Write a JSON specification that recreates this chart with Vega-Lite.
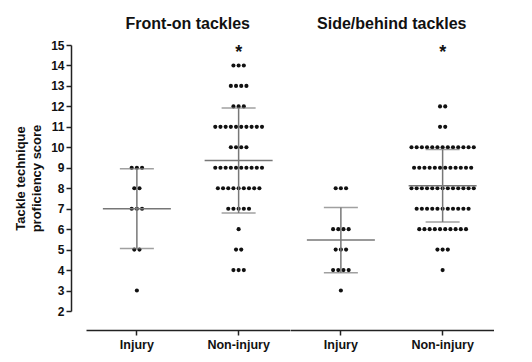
{
  "$schema": "https://vega.github.io/schema/vega-lite/v6.json",
  "padding": {"left": 14, "top": 16, "right": 5, "bottom": 5},
  "config": {
    "font": "Liberation Sans",
    "view": {"stroke": null},
    "axis": {"grid": false, "domainColor": "#222", "tickColor": "#222", "labelColor": "#111", "titleColor": "#111", "labelFontWeight": "bold", "titleFontWeight": "bold", "labelFont": "Liberation Sans", "titleFont": "Liberation Sans", "domainWidth": 1.5, "tickWidth": 1.5}
  },
  "data": {"values": [
    {"type":"Front-on tackles","group":"Injury","score":9},
    {"type":"Front-on tackles","group":"Injury","score":9},
    {"type":"Front-on tackles","group":"Injury","score":9},
    {"type":"Front-on tackles","group":"Injury","score":8},
    {"type":"Front-on tackles","group":"Injury","score":8},
    {"type":"Front-on tackles","group":"Injury","score":7},
    {"type":"Front-on tackles","group":"Injury","score":7},
    {"type":"Front-on tackles","group":"Injury","score":7},
    {"type":"Front-on tackles","group":"Injury","score":5},
    {"type":"Front-on tackles","group":"Injury","score":5},
    {"type":"Front-on tackles","group":"Injury","score":3},
    {"type":"Front-on tackles","group":"Non-injury","score":14},
    {"type":"Front-on tackles","group":"Non-injury","score":14},
    {"type":"Front-on tackles","group":"Non-injury","score":14},
    {"type":"Front-on tackles","group":"Non-injury","score":13},
    {"type":"Front-on tackles","group":"Non-injury","score":13},
    {"type":"Front-on tackles","group":"Non-injury","score":13},
    {"type":"Front-on tackles","group":"Non-injury","score":13},
    {"type":"Front-on tackles","group":"Non-injury","score":12},
    {"type":"Front-on tackles","group":"Non-injury","score":12},
    {"type":"Front-on tackles","group":"Non-injury","score":12},
    {"type":"Front-on tackles","group":"Non-injury","score":11},
    {"type":"Front-on tackles","group":"Non-injury","score":11},
    {"type":"Front-on tackles","group":"Non-injury","score":11},
    {"type":"Front-on tackles","group":"Non-injury","score":11},
    {"type":"Front-on tackles","group":"Non-injury","score":11},
    {"type":"Front-on tackles","group":"Non-injury","score":11},
    {"type":"Front-on tackles","group":"Non-injury","score":11},
    {"type":"Front-on tackles","group":"Non-injury","score":11},
    {"type":"Front-on tackles","group":"Non-injury","score":11},
    {"type":"Front-on tackles","group":"Non-injury","score":11},
    {"type":"Front-on tackles","group":"Non-injury","score":10},
    {"type":"Front-on tackles","group":"Non-injury","score":10},
    {"type":"Front-on tackles","group":"Non-injury","score":10},
    {"type":"Front-on tackles","group":"Non-injury","score":10},
    {"type":"Front-on tackles","group":"Non-injury","score":9},
    {"type":"Front-on tackles","group":"Non-injury","score":9},
    {"type":"Front-on tackles","group":"Non-injury","score":9},
    {"type":"Front-on tackles","group":"Non-injury","score":9},
    {"type":"Front-on tackles","group":"Non-injury","score":9},
    {"type":"Front-on tackles","group":"Non-injury","score":9},
    {"type":"Front-on tackles","group":"Non-injury","score":9},
    {"type":"Front-on tackles","group":"Non-injury","score":9},
    {"type":"Front-on tackles","group":"Non-injury","score":9},
    {"type":"Front-on tackles","group":"Non-injury","score":9},
    {"type":"Front-on tackles","group":"Non-injury","score":8},
    {"type":"Front-on tackles","group":"Non-injury","score":8},
    {"type":"Front-on tackles","group":"Non-injury","score":8},
    {"type":"Front-on tackles","group":"Non-injury","score":8},
    {"type":"Front-on tackles","group":"Non-injury","score":8},
    {"type":"Front-on tackles","group":"Non-injury","score":8},
    {"type":"Front-on tackles","group":"Non-injury","score":8},
    {"type":"Front-on tackles","group":"Non-injury","score":8},
    {"type":"Front-on tackles","group":"Non-injury","score":8},
    {"type":"Front-on tackles","group":"Non-injury","score":7},
    {"type":"Front-on tackles","group":"Non-injury","score":7},
    {"type":"Front-on tackles","group":"Non-injury","score":7},
    {"type":"Front-on tackles","group":"Non-injury","score":7},
    {"type":"Front-on tackles","group":"Non-injury","score":7},
    {"type":"Front-on tackles","group":"Non-injury","score":6},
    {"type":"Front-on tackles","group":"Non-injury","score":5},
    {"type":"Front-on tackles","group":"Non-injury","score":5},
    {"type":"Front-on tackles","group":"Non-injury","score":4},
    {"type":"Front-on tackles","group":"Non-injury","score":4},
    {"type":"Front-on tackles","group":"Non-injury","score":4},
    {"type":"Side/behind tackles","group":"Injury","score":8},
    {"type":"Side/behind tackles","group":"Injury","score":8},
    {"type":"Side/behind tackles","group":"Injury","score":8},
    {"type":"Side/behind tackles","group":"Injury","score":6},
    {"type":"Side/behind tackles","group":"Injury","score":6},
    {"type":"Side/behind tackles","group":"Injury","score":6},
    {"type":"Side/behind tackles","group":"Injury","score":6},
    {"type":"Side/behind tackles","group":"Injury","score":5},
    {"type":"Side/behind tackles","group":"Injury","score":5},
    {"type":"Side/behind tackles","group":"Injury","score":5},
    {"type":"Side/behind tackles","group":"Injury","score":4},
    {"type":"Side/behind tackles","group":"Injury","score":4},
    {"type":"Side/behind tackles","group":"Injury","score":4},
    {"type":"Side/behind tackles","group":"Injury","score":4},
    {"type":"Side/behind tackles","group":"Injury","score":3},
    {"type":"Side/behind tackles","group":"Non-injury","score":12},
    {"type":"Side/behind tackles","group":"Non-injury","score":12},
    {"type":"Side/behind tackles","group":"Non-injury","score":11},
    {"type":"Side/behind tackles","group":"Non-injury","score":11},
    {"type":"Side/behind tackles","group":"Non-injury","score":10},
    {"type":"Side/behind tackles","group":"Non-injury","score":10},
    {"type":"Side/behind tackles","group":"Non-injury","score":10},
    {"type":"Side/behind tackles","group":"Non-injury","score":10},
    {"type":"Side/behind tackles","group":"Non-injury","score":10},
    {"type":"Side/behind tackles","group":"Non-injury","score":10},
    {"type":"Side/behind tackles","group":"Non-injury","score":10},
    {"type":"Side/behind tackles","group":"Non-injury","score":10},
    {"type":"Side/behind tackles","group":"Non-injury","score":10},
    {"type":"Side/behind tackles","group":"Non-injury","score":10},
    {"type":"Side/behind tackles","group":"Non-injury","score":10},
    {"type":"Side/behind tackles","group":"Non-injury","score":10},
    {"type":"Side/behind tackles","group":"Non-injury","score":10},
    {"type":"Side/behind tackles","group":"Non-injury","score":9},
    {"type":"Side/behind tackles","group":"Non-injury","score":9},
    {"type":"Side/behind tackles","group":"Non-injury","score":9},
    {"type":"Side/behind tackles","group":"Non-injury","score":9},
    {"type":"Side/behind tackles","group":"Non-injury","score":9},
    {"type":"Side/behind tackles","group":"Non-injury","score":9},
    {"type":"Side/behind tackles","group":"Non-injury","score":9},
    {"type":"Side/behind tackles","group":"Non-injury","score":9},
    {"type":"Side/behind tackles","group":"Non-injury","score":9},
    {"type":"Side/behind tackles","group":"Non-injury","score":9},
    {"type":"Side/behind tackles","group":"Non-injury","score":9},
    {"type":"Side/behind tackles","group":"Non-injury","score":9},
    {"type":"Side/behind tackles","group":"Non-injury","score":8},
    {"type":"Side/behind tackles","group":"Non-injury","score":8},
    {"type":"Side/behind tackles","group":"Non-injury","score":8},
    {"type":"Side/behind tackles","group":"Non-injury","score":8},
    {"type":"Side/behind tackles","group":"Non-injury","score":8},
    {"type":"Side/behind tackles","group":"Non-injury","score":8},
    {"type":"Side/behind tackles","group":"Non-injury","score":8},
    {"type":"Side/behind tackles","group":"Non-injury","score":8},
    {"type":"Side/behind tackles","group":"Non-injury","score":8},
    {"type":"Side/behind tackles","group":"Non-injury","score":8},
    {"type":"Side/behind tackles","group":"Non-injury","score":8},
    {"type":"Side/behind tackles","group":"Non-injury","score":8},
    {"type":"Side/behind tackles","group":"Non-injury","score":8},
    {"type":"Side/behind tackles","group":"Non-injury","score":7},
    {"type":"Side/behind tackles","group":"Non-injury","score":7},
    {"type":"Side/behind tackles","group":"Non-injury","score":7},
    {"type":"Side/behind tackles","group":"Non-injury","score":7},
    {"type":"Side/behind tackles","group":"Non-injury","score":7},
    {"type":"Side/behind tackles","group":"Non-injury","score":7},
    {"type":"Side/behind tackles","group":"Non-injury","score":7},
    {"type":"Side/behind tackles","group":"Non-injury","score":7},
    {"type":"Side/behind tackles","group":"Non-injury","score":7},
    {"type":"Side/behind tackles","group":"Non-injury","score":7},
    {"type":"Side/behind tackles","group":"Non-injury","score":7},
    {"type":"Side/behind tackles","group":"Non-injury","score":6},
    {"type":"Side/behind tackles","group":"Non-injury","score":6},
    {"type":"Side/behind tackles","group":"Non-injury","score":6},
    {"type":"Side/behind tackles","group":"Non-injury","score":6},
    {"type":"Side/behind tackles","group":"Non-injury","score":6},
    {"type":"Side/behind tackles","group":"Non-injury","score":6},
    {"type":"Side/behind tackles","group":"Non-injury","score":6},
    {"type":"Side/behind tackles","group":"Non-injury","score":6},
    {"type":"Side/behind tackles","group":"Non-injury","score":6},
    {"type":"Side/behind tackles","group":"Non-injury","score":6},
    {"type":"Side/behind tackles","group":"Non-injury","score":5},
    {"type":"Side/behind tackles","group":"Non-injury","score":5},
    {"type":"Side/behind tackles","group":"Non-injury","score":5},
    {"type":"Side/behind tackles","group":"Non-injury","score":4}
  ]},
  "facet": {
    "column": {
      "field": "type", "type": "nominal",
      "sort": ["Front-on tackles", "Side/behind tackles"],
      "header": {"title": null, "labelFontSize": 16, "labelFontWeight": "bold", "labelFont": "Liberation Sans", "labelColor": "#111", "labelPadding": 12}
    }
  },
  "spacing": 0,
  "spec": {
    "width": 203.5,
    "height": 266,
    "layer": [
      {
        "transform": [
          {"window": [{"op": "row_number", "as": "rn"}, {"op": "count", "as": "n"}], "groupby": ["group", "score"], "frame": [null, null]},
          {"calculate": "datum.rn - (datum.n + 1) / 2", "as": "off"}
        ],
        "mark": {"type": "circle", "size": 17, "color": "#111", "opacity": 1},
        "encoding": {
          "x": {
            "field": "group", "type": "nominal",
            "scale": {"type": "band", "paddingInner": 0, "paddingOuter": 0, "domain": ["Injury", "Non-injury"]},
            "axis": {"title": null, "labelAngle": 0, "offset": 19, "tickSize": 5, "labelFontSize": 12.5, "labelPadding": 3}
          },
          "xOffset": {"field": "off", "type": "quantitative", "scale": {"domain": [-9.8, 9.8]}},
          "y": {
            "field": "score", "type": "quantitative",
            "scale": {"domain": [2, 15], "nice": false, "zero": false},
            "axis": {"title": ["Tackle technique", "proficiency score"], "values": [2,3,4,5,6,7,8,9,10,11,12,13,14,15], "offset": 15, "tickSize": 5, "labelFontSize": 12, "labelPadding": 2, "titleFontSize": 13, "titlePadding": 7, "titleLineHeight": 16}
          }
        }
      },
      {
        "mark": {"type": "errorbar", "extent": "stdev", "color": "#777", "thickness": 1.5, "ticks": {"size": 34, "color": "#777", "thickness": 1.5}},
        "encoding": {
          "x": {"field": "group", "type": "nominal", "axis": {"title": null, "labelAngle": 0, "offset": 19, "tickSize": 5, "labelFontSize": 12.5, "labelPadding": 3}},
          "y": {"field": "score", "type": "quantitative", "axis": {"title": ["Tackle technique", "proficiency score"], "values": [2,3,4,5,6,7,8,9,10,11,12,13,14,15], "offset": 15, "tickSize": 5, "labelFontSize": 12, "labelPadding": 2, "titleFontSize": 13, "titlePadding": 7, "titleLineHeight": 16}}
        }
      },
      {
        "mark": {"type": "tick", "size": 68, "thickness": 1.5, "color": "#777"},
        "encoding": {
          "x": {"field": "group", "type": "nominal", "axis": {"title": null, "labelAngle": 0, "offset": 19, "tickSize": 5, "labelFontSize": 12.5, "labelPadding": 3}},
          "y": {"aggregate": "mean", "field": "score", "type": "quantitative", "axis": {"title": ["Tackle technique", "proficiency score"], "values": [2,3,4,5,6,7,8,9,10,11,12,13,14,15], "offset": 15, "tickSize": 5, "labelFontSize": 12, "labelPadding": 2, "titleFontSize": 13, "titlePadding": 7, "titleLineHeight": 16}}
        }
      },
      {
        "transform": [
          {"filter": "datum.group == 'Non-injury'"},
          {"aggregate": [{"op": "count", "as": "n"}], "groupby": ["group"]}
        ],
        "mark": {"type": "text", "text": "*", "fontSize": 18, "fontWeight": "bold", "color": "#111", "baseline": "middle", "dy": 8},
        "encoding": {
          "x": {"field": "group", "type": "nominal", "axis": {"title": null, "labelAngle": 0, "offset": 19, "tickSize": 5, "labelFontSize": 12.5, "labelPadding": 3}},
          "y": {"datum": 15, "axis": {"title": ["Tackle technique", "proficiency score"], "values": [2,3,4,5,6,7,8,9,10,11,12,13,14,15], "offset": 15, "tickSize": 5, "labelFontSize": 12, "labelPadding": 2, "titleFontSize": 13, "titlePadding": 7, "titleLineHeight": 16}}
        }
      }
    ]
  }
}
